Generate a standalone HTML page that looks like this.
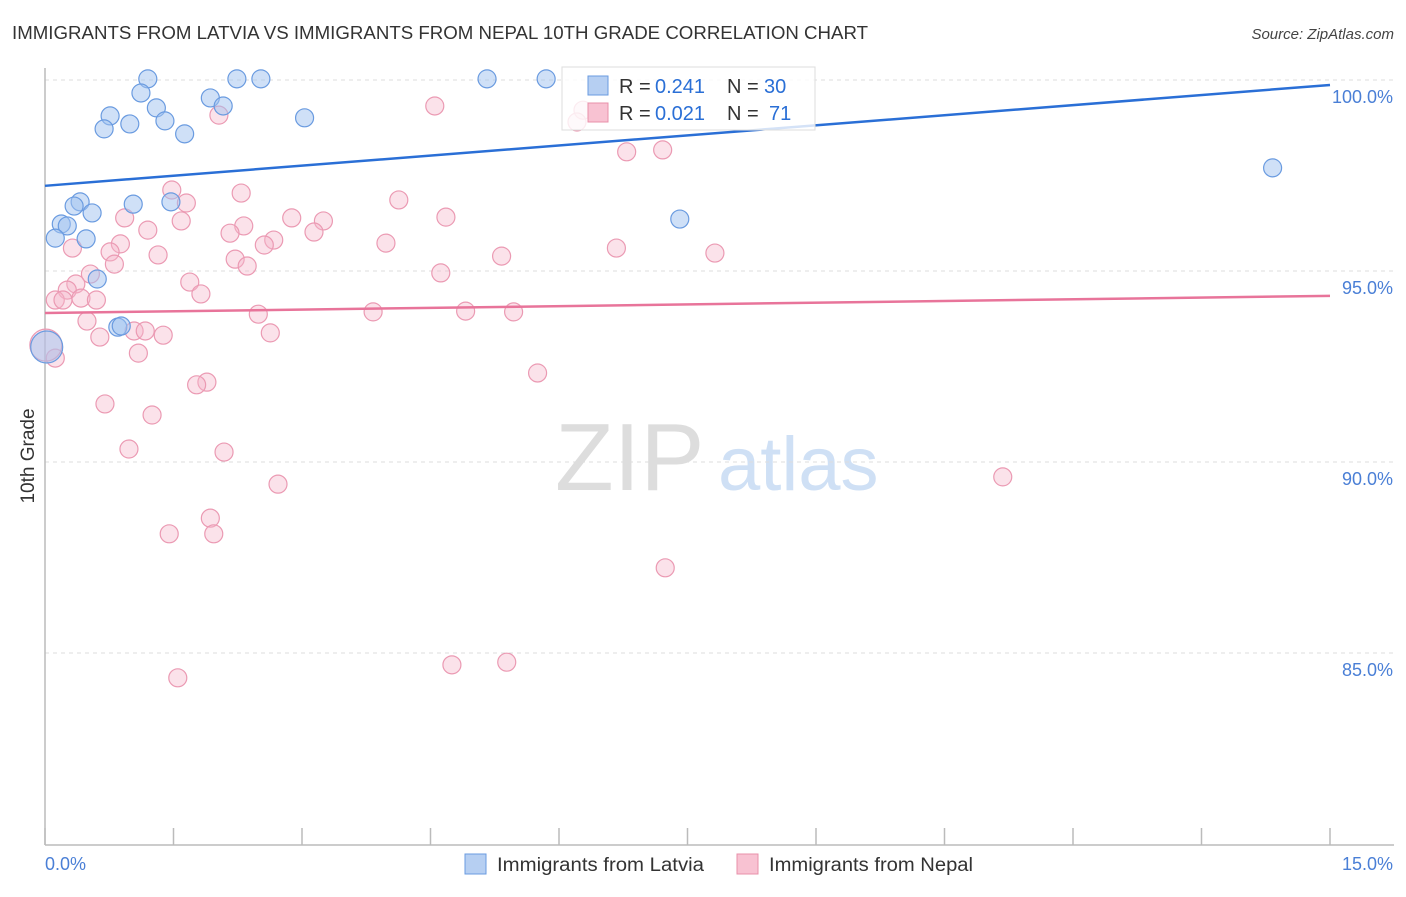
<!DOCTYPE html>
<html><head><meta charset="utf-8"><style>
body{margin:0;background:#fff;font-family:"Liberation Sans",sans-serif}
svg text{font-family:"Liberation Sans",sans-serif}
</style></head><body>
<svg id="chart" width="1406" height="892" xmlns="http://www.w3.org/2000/svg">
<text x="12" y="39" font-size="18" fill="#333" textLength="856" lengthAdjust="spacingAndGlyphs">IMMIGRANTS FROM LATVIA VS IMMIGRANTS FROM NEPAL 10TH GRADE CORRELATION CHART</text>
<text x="1394" y="39" font-size="15" fill="#444" text-anchor="end" font-style="italic">Source: ZipAtlas.com</text>
<g>
<text x="555" y="490" font-size="96" fill="#ddd" font-family="Liberation Serif,serif">ZIP</text>
<text x="718" y="490" font-size="76" fill="#cfe0f5">atlas</text>
</g>
<g id="grid"></g>
<g id="axes"></g>
<g id="marks"></g>
<g id="legend">
<rect x="562" y="67" width="253" height="63" fill="#fff" fill-opacity="0.8" stroke="#ddd"/>
<rect x="588" y="76" width="20" height="19" fill="#b6cff2" stroke="#6a9be0"/>
<rect x="588" y="103" width="20" height="19" fill="#f8c2d2" stroke="#e890aa"/>
<text x="619" y="93" font-size="20" fill="#333">R = </text><text x="655" y="93" font-size="20" fill="#2a6fd6">0.241</text>
<text x="727" y="93" font-size="20" fill="#333">N = </text><text x="764" y="93" font-size="20" fill="#2a6fd6">30</text>
<text x="619" y="120" font-size="20" fill="#333">R = </text><text x="655" y="120" font-size="20" fill="#2a6fd6">0.021</text>
<text x="727" y="120" font-size="20" fill="#333">N = </text><text x="769" y="120" font-size="20" fill="#2a6fd6">71</text>
</g>
<g>
<rect x="465" y="854" width="21" height="20" fill="#b6cff2" stroke="#6a9be0"/>
<text x="497" y="871" font-size="19" fill="#333" textLength="207" lengthAdjust="spacingAndGlyphs">Immigrants from Latvia</text>
<rect x="737" y="854" width="21" height="20" fill="#f8c2d2" stroke="#e890aa"/>
<text x="769" y="871" font-size="19" fill="#333" textLength="204" lengthAdjust="spacingAndGlyphs">Immigrants from Nepal</text>
</g>
<text transform="translate(34,456) rotate(-90)" font-size="19" fill="#333" text-anchor="middle">10th Grade</text>
<text x="45" y="870" font-size="18" fill="#4a7fd6">0.0%</text>
<text x="1393" y="870" font-size="18" fill="#4a7fd6" text-anchor="end">15.0%</text>
</svg>
<script>
const yTicks=[100,95,90,85];
const yTickLabels=["100.0%","95.0%","90.0%","85.0%"];
const xTicks=[0,1.5,3,4.5,6,7.5,9,10.5,12,13.5,15];
const latviaX=[1.20,2.24,2.52,5.16,5.85,1.12,1.93,1.30,2.08,0.76,3.03,0.69,0.99,1.40,1.63,14.33,0.41,0.34,1.03,1.47,0.55,0.19,0.26,0.12,0.48,0.61,7.41,0.85,0.89,0.02];
const latviaY=[100.03,100.03,100.03,100.03,100.03,99.66,99.53,99.27,99.32,99.06,99.01,98.72,98.85,98.93,98.59,97.70,96.81,96.70,96.75,96.81,96.52,96.23,96.18,95.86,95.84,94.79,96.36,93.53,93.56,93.01];
const nepalX=[4.55,6.28,6.21,2.03,6.79,7.21,1.48,2.29,4.13,1.65,0.93,1.59,4.68,2.88,3.25,2.32,2.16,1.20,3.14,2.67,2.56,0.88,3.98,0.32,0.76,1.32,6.67,7.82,5.33,2.22,2.36,0.81,0.53,4.62,1.69,0.36,0.26,1.82,0.12,0.21,0.42,0.60,2.49,3.83,4.91,5.47,0.49,1.04,1.17,1.38,0.64,2.63,1.09,0.12,5.75,1.89,1.77,0.70,1.25,0.98,2.09,11.18,2.72,1.93,1.45,1.97,7.24,4.75,5.39,1.55,0.01];
const nepalY=[99.32,99.21,98.90,99.08,98.12,98.17,97.12,97.04,96.86,96.78,96.39,96.31,96.41,96.39,96.31,96.18,95.99,96.07,96.02,95.81,95.68,95.71,95.73,95.60,95.50,95.42,95.60,95.47,95.39,95.31,95.13,95.18,94.92,94.95,94.71,94.66,94.50,94.40,94.24,94.24,94.29,94.24,93.87,93.93,93.95,93.93,93.69,93.43,93.43,93.32,93.27,93.38,92.85,92.72,92.33,92.09,92.02,91.52,91.23,90.34,90.26,89.61,89.42,88.53,88.12,88.12,87.23,84.69,84.76,84.35,93.06];
const latviaTrend=[97.23,99.87];
const nepalTrend=[93.90,94.35];
const NS="http://www.w3.org/2000/svg";
const X=v=>45+v/15*1285;
const Y=v=>80+(100-v)*38.2;
function mk(tag,attrs,parent){const e=document.createElementNS(NS,tag);for(const k in attrs)e.setAttribute(k,attrs[k]);document.getElementById(parent).appendChild(e);return e;}
yTicks.forEach((t,i)=>{
 const l=mk('line',{x1:45,x2:1394,y1:Y(t),y2:Y(t),stroke:'#ddd','stroke-dasharray':'4,4'},'grid');
 
 
 const tx=mk('text',{x:1393,y:Y(t)+23,'font-size':18,fill:'#4a7fd6','text-anchor':'end'},'grid');
 tx.textContent=yTickLabels[i];
 
 
});
const ya=mk('line',{x1:45,x2:45,y1:68,y2:845,stroke:'#bbb','stroke-width':1.5},'axes');


const xa=mk('line',{x1:45,x2:1394,y1:845,y2:845,stroke:'#bbb','stroke-width':1.5},'axes');


xTicks.forEach(t=>{
 const l=mk('line',{x1:X(t),x2:X(t),y1:828,y2:845,stroke:'#bbb','stroke-width':1.5},'axes');
 
 
});
function pts(xs,ys,fill,stroke,name){
 xs.forEach((x,i)=>{
  const big=x<0.05;
  const c=mk('circle',{cx:X(x),cy:Y(ys[i]),r:big?16:9,fill:fill,stroke:stroke,'stroke-width':1.2},'marks');
  
  
 });
}
pts(nepalX,nepalY,'rgba(246,182,202,0.4)','#eb9ab3','nepal-point');
pts(latviaX,latviaY,'rgba(160,194,240,0.5)','#6a9be0','latvia-point');
const bl=mk('line',{x1:X(0),x2:X(15),y1:Y(latviaTrend[0]),y2:Y(latviaTrend[1]),stroke:'#2a6fd6','stroke-width':2.5},'marks');


const pl=mk('line',{x1:X(0),x2:X(15),y1:Y(nepalTrend[0]),y2:Y(nepalTrend[1]),stroke:'#e8749a','stroke-width':2.5},'marks');


</script>
</body></html>
